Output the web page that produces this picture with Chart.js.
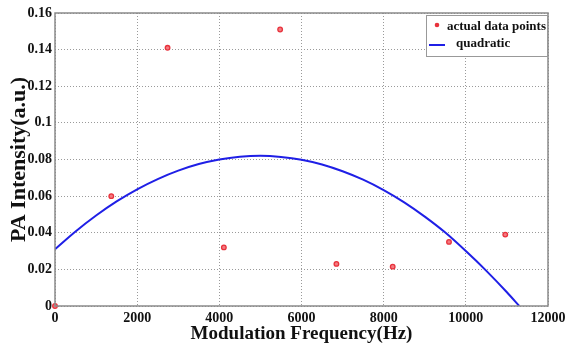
<!DOCTYPE html>
<html>
<head>
<meta charset="utf-8">
<script src="https://cdn.jsdelivr.net/npm/chart.js@4"></script>
<style>
  html, body { margin: 0; padding: 0; background: #fff; }
  #wrap { width: 566px; height: 349px; }
</style>
</head>
<body>
<div id="wrap"><canvas id="paChart" width="566" height="349"></canvas></div>
<script>
// Measured points
const freqs = [0, 1370, 2740, 4110, 5480, 6850, 8220, 9590, 10960];
const intensity = [0, 0.060, 0.141, 0.032, 0.151, 0.023, 0.0215, 0.035, 0.039];

// Quadratic fit curve
const fitFreqs = [0, 500, 1000, 1500, 2000, 2500, 3000, 3500, 4000, 4500, 5000, 5500, 6000,
    6500, 7000, 7500, 8000, 8500, 9000, 9500, 10000, 10500, 11000, 11300];
const fitValues = [0.031, 0.0407, 0.0494, 0.0571, 0.0637, 0.0693, 0.0739, 0.0775, 0.0800, 0.0815,
    0.0820, 0.0814, 0.0799, 0.0773, 0.0736, 0.0690, 0.0633, 0.0566, 0.0488, 0.0401, 0.0300,
    0.0192, 0.0075, 0.0];

const xTicks = [0, 2000, 4000, 6000, 8000, 10000, 12000];
const yTicks = [0, 0.02, 0.04, 0.06, 0.08, 0.1, 0.12, 0.14, 0.16];

const seriesNames = ['actual data points', 'quadratic'];
const pointColor = '#e8323c';
const lineColor = '#1f1fe6';
const serif = "'Liberation Serif', 'Times New Roman', serif";

// Frame around the plot plus the boxed legend in the top right corner
const frameAndLegend = {
    id: 'frameAndLegend',
    afterDraw(chart) {
        const ctx = chart.ctx;
        const a = chart.chartArea;
        ctx.save();
        ctx.strokeStyle = '#8a8a8a';
        ctx.lineWidth = 1.5;
        ctx.strokeRect(a.left, a.top, a.right - a.left, a.bottom - a.top);

        const boxW = 121, boxH = 41;
        const bx = a.right - boxW - 1, by = a.top + 2;
        ctx.fillStyle = '#fff';
        ctx.fillRect(bx, by, boxW, boxH);
        ctx.strokeStyle = '#999';
        ctx.lineWidth = 1;
        ctx.strokeRect(bx + 0.5, by + 0.5, boxW, boxH);

        // marker for the points
        ctx.beginPath();
        ctx.arc(bx + 11, by + 10, 2.3, 0, Math.PI * 2);
        ctx.fillStyle = pointColor;
        ctx.fill();
        // line sample
        ctx.strokeStyle = lineColor;
        ctx.lineWidth = 2;
        ctx.beginPath();
        ctx.moveTo(bx + 3, by + 30);
        ctx.lineTo(bx + 19, by + 30);
        ctx.stroke();

        ctx.fillStyle = '#111';
        ctx.font = 'bold 13px ' + serif;
        ctx.textBaseline = 'middle';
        ctx.fillText(seriesNames[0], bx + 21, by + 12);
        ctx.fillText(seriesNames[1], bx + 30, by + 29);
        ctx.restore();
    }
};

new Chart(document.getElementById('paChart').getContext('2d'), {
    type: 'scatter',
    data: {
        datasets: [{
            label: seriesNames[0],
            data: freqs.map((f, i) => ({ x: f, y: intensity[i] })),
            pointRadius: 2.3,
            pointBorderWidth: 1.3,
            pointBackgroundColor: '#f37a80',
            pointBorderColor: pointColor,
            showLine: false,
            clip: false,
            order: 0
        }, {
            label: seriesNames[1],
            data: fitFreqs.map((f, i) => ({ x: f, y: fitValues[i] })),
            showLine: true,
            borderColor: lineColor,
            borderWidth: 2,
            pointRadius: 0,
            tension: 0.4,
            cubicInterpolationMode: 'monotone',
            order: 1
        }]
    },
    options: {
        responsive: false,
        animation: false,
        layout: { padding: { top: 13, right: 0, left: 0, bottom: 0 } },
        plugins: {
            legend: { display: false },
            tooltip: { enabled: false }
        },
        scales: {
            x: {
                type: 'linear',
                min: 0,
                max: 12000,
                afterBuildTicks: (scale) => { scale.ticks = xTicks.map(v => ({ value: v })); },
                afterFit: (scale) => { scale.height = 43; scale.paddingRight = 18; },
                grid: {
                    color: '#9a9a9a',
                    lineWidth: 1,
                    drawTicks: false
                },
                border: { display: false, dash: [1, 2] },
                ticks: {
                    padding: 4,
                    color: '#111',
                    font: { family: serif, size: 14, weight: 'bold' },
                    callback: (v) => String(v)
                },
                title: {
                    display: true,
                    text: 'Modulation Frequency(Hz)',
                    color: '#111',
                    font: { family: serif, size: 19, weight: 'bold' },
                    padding: { top: 0, bottom: 4 }
                }
            },
            y: {
                min: 0,
                max: 0.16,
                afterBuildTicks: (scale) => { scale.ticks = yTicks.map(v => ({ value: v })); },
                afterFit: (scale) => { scale.width = 55; },
                grid: {
                    color: '#9a9a9a',
                    lineWidth: 1,
                    drawTicks: false
                },
                border: { display: false, dash: [1, 2] },
                ticks: {
                    padding: 3,
                    color: '#111',
                    font: { family: serif, size: 14, weight: 'bold' },
                    callback: (v) => String(+v.toFixed(2))
                },
                title: {
                    display: true,
                    text: 'PA Intensity(a.u.)',
                    color: '#111',
                    font: { family: serif, size: 22, weight: 'bold' },
                    padding: { top: 6, bottom: 0 }
                }
            }
        }
    },
    plugins: [frameAndLegend]
});
</script>
</body>
</html>
